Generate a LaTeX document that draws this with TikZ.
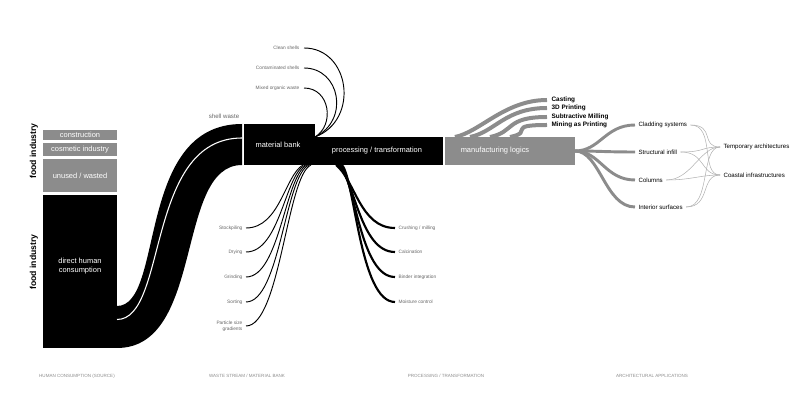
\documentclass[tikz,border=0pt]{standalone}
\usepackage{fontspec}
\setmainfont{Liberation Sans}
\usetikzlibrary{calc}
\begin{document}
\begin{tikzpicture}[x=0.75pt,y=-0.75pt,
  tiny/.style={font=\fontsize{3.6}{4.2}\selectfont,text=black!60,inner sep=1pt,align=right},
  sm/.style={font=\fontsize{4.6}{5.4}\selectfont,inner sep=1pt},
  box/.style={font=\fontsize{5.6}{6.6}\selectfont,text=white,inner sep=0pt},
  thin/.style={black,line width=0.7pt},
  thick/.style={black,line width=1.6pt},
  gflow/.style={black!45,line width=2.2pt},
  gthin/.style={black!30,line width=0.4pt},
  foot/.style={font=\fontsize{3.4}{4}\selectfont,text=black!45}]
\useasboundingbox (0,0) rectangle (804,402);
% left boxes
\fill[black!45] (43,130) rectangle (117,140);
\fill[black!45] (43,143) rectangle (117,156);
\fill[black!45] (43,159) rectangle (117,192);
\fill[black] (43,195) rectangle (117,348);
\node[box] (constr) at (80,135) {construction};
\node[box] (cosm) at (80,149.5) {cosmetic industry};
\node[box] (unused) at (80,175.5) {unused / wasted};
\node[box,align=center] (dhc) at (80,266) {direct human\\consumption};
\node[rotate=90,font=\bfseries\fontsize{6.5}{7}\selectfont] (fi1) at (34,151) {food industry};
\node[rotate=90,font=\bfseries\fontsize{6.5}{7}\selectfont] (fi2) at (34,262) {food industry};
% S flow
\fill[black] (117,306) .. controls (165,306) and (135,124) .. (242,124) -- (242,165)
  .. controls (175,165) and (205,348) .. (117,348) -- cycle;
\draw[white,line width=0.8pt] (117,319.5) .. controls (168,319.5) and (145,138) .. (242,138);
\node[sm,text=black!60] (sw) at (224,116) {shell waste};
% boxes
\fill[black] (243.5,124) rectangle (315,165);
\fill[black] (315,137) rectangle (443,165);
\fill[black!45] (445,137) rectangle (575,165);
\node[box] (mb) at (278,145) {material bank};
\node[box] (pt) at (377,151) {processing / transformation};
\node[box] (ml) at (495,151) {manufacturing logics};
\coordinate (mbt) at (315,137);
% top arcs
\node[tiny,anchor=east] (cs) at (301,48) {Clean shells};
\node[tiny,anchor=east] (cts) at (301,68) {Contaminated shells};
\node[tiny,anchor=east] (mo) at (301,88) {Mixed organic waste};
\draw[thin] ($(cs.east)+(3,0)$) .. controls (350,48) and (360,120) .. (mbt);
\draw[thin] ($(cts.east)+(3,0)$) .. controls (340,68) and (350,120) .. (mbt);
\draw[thin] ($(mo.east)+(3,0)$) .. controls (330,88) and (335,125) .. (mbt);
% bottom-left
\foreach \n/\t/\y/\sx in {sp/Stockpiling/228/303, dr/Drying/252/305, gr/Grinding/277/307, so/Sorting/302/309}{
  \node[tiny,anchor=east] (\n) at (244,\y) {\t};
  \draw[thin] ($(\n.east)+(2,0)$) .. controls (280,\y) and (285,175) .. (\sx,165);
}
\node[tiny,anchor=east] (ps) at (244,326) {Particle size\\gradients};
\draw[thin] ($(ps.east)+(2,0)$) .. controls (280,326) and (287,175) .. (311,165);
% bottom-right
\foreach \n/\t/\y/\sx in {cm/{Crushing / milling}/228/336, ca/Calcination/252/338, bi/Binder integration/277/340, mc/Moisture control/302/342}{
  \node[tiny,anchor=west,align=left] (\n) at (397,\y) {\t};
  \draw[thick] (\sx,165) .. controls (355,180) and (360,\y) .. ($(\n.west)+(-2,0)$);
}
% manufacturing ribbons
\foreach \n/\t/\y/\sx in {ca1/Casting/100/455, tp/3D Printing/108/470, sm1/Subtractive Milling/117/490, mp/Mining as Printing/125/510}{
  \node[font=\bfseries\fontsize{4.8}{5.4}\selectfont,inner sep=1pt,anchor=west] (\n) at (550,\y) {\t};
  \draw[gflow,line width=3pt] (\sx,137) .. controls (\sx+25,132) and (505,\y) .. ($(\n.west)+(-3,0)$);
}
% applications
\foreach \n/\t/\y in {cl/Cladding systems/125, st/Structural infill/152, co/Columns/180, in/Interior surfaces/207}{
  \node[sm,anchor=west] (\n) at (637,\y) {\t};
  \draw[gflow] (575,151) .. controls (600,151) and (605,\y) .. ($(\n.west)+(-2,0)$);
}
\node[sm,anchor=west] (ta) at (722,147) {Temporary architectures};
\node[sm,anchor=west] (ci) at (722,175) {Coastal infrastructures};
\foreach \s in {cl,st,co,in}{
  \foreach \d in {ta,ci}{
    \draw[gthin] ($(\s.east)+(2,0)$) .. controls +(25,0) and +(-20,0) .. ($(\d.west)+(-2,0)$);
  }
}
% footer
\node[foot] (f1) at (77,376) {HUMAN CONSUMPTION (SOURCE)};
\node[foot] (f2) at (247,376) {WASTE STREAM / MATERIAL BANK};
\node[foot] (f3) at (446,376) {PROCESSING / TRANSFORMATION};
\node[foot] (f4) at (652,376) {ARCHITECTURAL APPLICATIONS};
\end{tikzpicture}
\end{document}
